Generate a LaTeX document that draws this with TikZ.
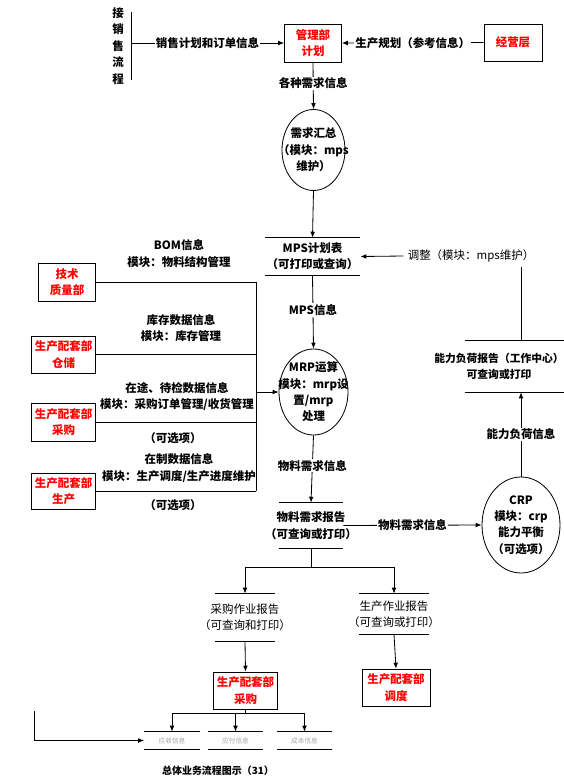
\documentclass[tikz,border=0pt]{standalone}
\usepackage{fontspec}
\setmainfont{Noto Sans CJK SC}
\usepackage{xcolor}
\usepackage{tikz}
\usetikzlibrary{arrows.meta,shapes.geometric}
\definecolor{deptred}{RGB}{255,0,0}
\definecolor{ledgergray}{RGB}{165,165,165}
\newcommand\flowfont{\fontsize{9.8pt}{14pt}\selectfont\bfseries}
\newcommand\thinfont{\fontsize{9.8pt}{14pt}\selectfont}
\tikzset{
  arr/.style={-{Latex[length=5pt,width=4pt]}},
  deptbox/.style={draw, rectangle, inner xsep=0.1cm, minimum height=1.12cm, align=center, text=deptred, font=\flowfont},
  ellnode/.style={draw, ellipse, inner sep=0pt},
  tbl/.style={inner sep=0pt},
  tbltext/.style={align=center, font=\flowfont},
  lbl/.style={align=center, font=\flowfont},
  flowlbl/.style={midway, fill=white, inner sep=1pt, font=\flowfont},
}

\begin{document}
\begin{tikzpicture}[x=0.03cm, y=-0.03cm, line width=0.7pt]
  \useasboundingbox (0,0) rectangle (564,783);
  \clip (0,0) rectangle (564,783);

  % top row
  \node[lbl] (sales) at (118,46) {接\\销\\售\\流\\程};
  \coordinate (salesbar) at (131,43);
  \node[deptbox, minimum width=1.71cm, minimum height=1.14cm] (plan) at (313,43) {管理部\\计划};
  \node[deptbox, minimum width=1.74cm, minimum height=1.11cm] (boss) at (513,42.5) {经营层};
  \draw (salesbar) ++(0,-31) -- ++(0,68);
  \draw[arr] (salesbar) -- node[flowlbl] {销售计划和订单信息} (plan.west);
  \draw[arr] (boss.west) -- node[flowlbl] {生产规划（参考信息）} (plan.east);

  % main column
  \node[ellnode, minimum width=1.89cm, minimum height=2.43cm, label={[tbltext]center:{需求汇总\\（模块：mps\\维护）}}] (demand) at (313.5,150) {};
  \node[tbl, minimum width=2.85cm, minimum height=1.11cm, label={[tbltext]center:{MPS计划表\\（可打印或查询）}}] (mps) at (312.5,256.5) {};
  \node[ellnode, minimum width=2.07cm, minimum height=2.58cm, label={[tbltext]center:{MRP运算\\模块：mrp设\\置/mrp\\处理}}] (mrp) at (313.5,392) {};
  \node[tbl, minimum width=1.92cm, minimum height=1.35cm, label={[tbltext]center:{物料需求报告\\（可查询或打印）}}] (mrq) at (311,525.5) {};
  \draw[arr] (plan.south) -- node[flowlbl, pos=.45] {各种需求信息} (demand.north);
  \draw[arr] (demand.south) -- (mps.north);
  \draw[arr] (mps.south) -- node[flowlbl, pos=.47] {MPS信息} (mrp.north);
  \draw[arr] (mrp.south) -- node[flowlbl, pos=.45] {物料需求信息} (mrq.north);

  % capacity loop
  \node[ellnode, minimum width=2.34cm, minimum height=2.88cm, label={[tbltext]center:{CRP\\模块：crp\\能力平衡\\（可选项）}}] (crp) at (521,525) {};
  \node[tbl, minimum width=3.06cm, minimum height=1.53cm] (cap) at (516,366.5) {};
  \node[tbltext, font=\fontsize{9.2pt}{14pt}\selectfont\bfseries] (captext) at (499,366.5) {能力负荷报告（工作中心）\\可查询或打印};
  \node[lbl, font=\thinfont] (adj) at (471,256) {调整（模块：mps维护）};
  \draw[arr] (mrq.east) -- node[flowlbl] {物料需求信息} (crp.west);
  \draw[arr] (crp.north) -- node[flowlbl] {能力负荷信息} (crp.north |- cap.south);
  \draw (cap.north -| crp.north) -- (crp.north |- adj.south);
  \draw[arr] (adj.west) -- (mps.east);

  % departments on the left
  \node[deptbox, anchor=east, minimum width=1.71cm, minimum height=1.14cm] (tech) at (96,282) {技术\\质量部};
  \node[deptbox, anchor=east, minimum height=1.11cm] (store) at (96,354.5) {生产配套部\\仓储};
  \node[deptbox, anchor=east, minimum height=1.14cm] (purch) at (96,422) {生产配套部\\采购};
  \node[deptbox, anchor=east, minimum height=1.08cm] (prod) at (96,491) {生产配套部\\生产};
  \node[lbl] (bomlbl) at (179,253.5) {BOM信息\\模块：物料结构管理};
  \node[lbl] (storelbl) at (181,328) {库存数据信息\\模块：库存管理};
  \node[lbl] (purchlbl) at (177,396.5) {在途、待检数据信息\\模块：采购订单管理/收货管理};
  \node[lbl] (opt1) at (173,438) {（可选项）};
  \node[lbl] (prodlbl) at (179,468) {在制数据信息\\模块：生产调度/生产进度维护};
  \node[lbl] (opt2) at (173,505) {（可选项）};
  \coordinate (bus) at (256,392);
  \foreach \d in {tech,store,purch,prod}
    \draw (\d.east) -- (\d.east -| bus);
  \draw (tech.east -| bus) -- (prod.east -| bus);
  \draw[arr] (bus) -- (mrp.west);

  % reports and bottom departments
  \node[tbl, minimum width=1.8cm, minimum height=1.41cm, label={[tbltext, font=\thinfont]center:{采购作业报告\\（可查询和打印）}}] (prep) at (245,617.5) {};
  \node[tbl, minimum width=2.07cm, minimum height=1.2cm, label={[tbltext, font=\thinfont]center:{生产作业报告\\（可查询或打印）}}] (pprep) at (394,614) {};
  \draw (mrq.south) -- ++(0,19) coordinate (fork);
  \draw (fork -| prep.north) -- (fork -| pprep.north);
  \draw[arr] (fork -| prep.north) -- (prep.north);
  \draw[arr] (fork -| pprep.north) -- (pprep.north);
  \node[deptbox, minimum width=1.92cm, minimum height=1.11cm] (purch2) at (245.5,690.5) {生产配套部\\采购};
  \node[deptbox, minimum width=2.04cm, minimum height=1.11cm] (sched) at (396,687.5) {生产配套部\\调度};
  \draw[arr] (prep.south) -- (purch2.north);
  \draw[arr] (pprep.south) -- (sched.north);

  % ledger tables
  \node[tbl, minimum width=1.65cm, minimum height=0.51cm, label={[text=ledgergray, font=\fontsize{5.7pt}{7pt}\selectfont]center:应收信息}] (ar) at (172,740.5) {};
  \node[tbl, minimum width=1.65cm, minimum height=0.51cm, label={[text=ledgergray, font=\fontsize{5.7pt}{7pt}\selectfont]center:应付信息}] (ap) at (235.5,740.5) {};
  \node[tbl, minimum width=1.65cm, minimum height=0.51cm, label={[text=ledgergray, font=\fontsize{5.7pt}{7pt}\selectfont]center:成本信息}] (cost) at (304.5,740.5) {};
  \draw (purch2.south) -- ++(0,3.5) coordinate (fork2);
  \draw (fork2 -| ar.north) -- (fork2 -| cost.north);
  \foreach \t in {ar,ap,cost}
    \draw[arr] (fork2 -| \t.north) -- (\t.north);
  \coordinate (feed) at (34,711);
  \draw[arr] (feed) |- (ar.west);

  % rules of the tables
  \foreach \t in {mps,mrq,cap,prep,pprep,ar,ap,cost}
    \draw (\t.north west) -- (\t.north east) (\t.south west) -- (\t.south east);

  \node[font=\fontsize{8.5pt}{10pt}\selectfont\bfseries] (caption) at (218,771) {总体业务流程图示（31）};
\end{tikzpicture}
\end{document}
